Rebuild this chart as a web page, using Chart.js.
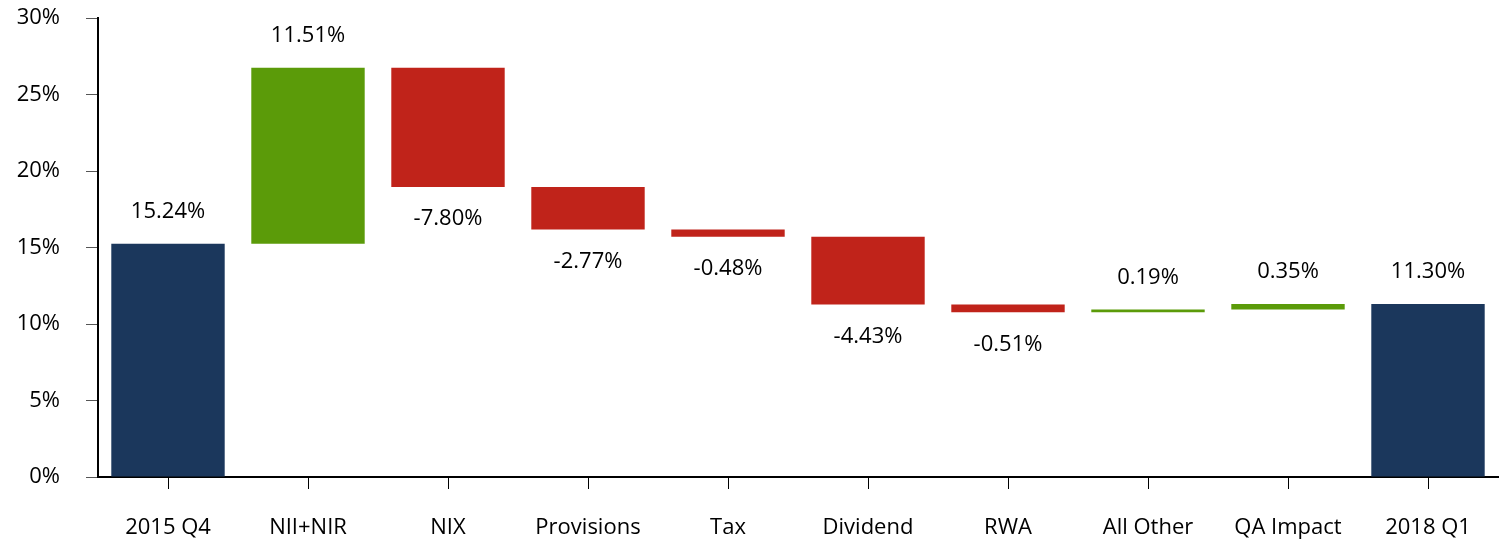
<!DOCTYPE html>
<html>
<head>
<meta charset="utf-8">
<script src="https://cdn.jsdelivr.net/npm/chart.js@4"></script>
<style>
  html, body { margin: 0; padding: 0; background: #fff; }
  #wrap { width: 1499px; height: 542px; }
</style>
</head>
<body>
<div id="wrap"><canvas id="chartContainer"></canvas></div>
<script>
var categories = ['2015 Q4', 'NII+NIR', 'NIX', 'Provisions', 'Tax', 'Dividend', 'RWA', 'All Other', 'QA Impact', '2018 Q1'];
var changes = [15.24, 11.51, -7.80, -2.77, -0.48, -4.43, -0.51, 0.19, 0.35, 11.30];
var isTotal = [true, false, false, false, false, false, false, false, false, true];
var yTicks = [0, 5, 10, 15, 20, 25, 30];

var navy = '#1b375c', green = '#5b9b09', red = '#c0231a';

// build floating bars from the running total
var ranges = [], colors = [];
var running = 0;
for (var i = 0; i < changes.length; i++) {
  if (isTotal[i]) {
    ranges.push([0, changes[i]]);
    running = changes[i];
    colors.push(navy);
  } else {
    var start = running;
    running = start + changes[i];
    ranges.push([Math.min(start, running), Math.max(start, running)]);
    colors.push(changes[i] >= 0 ? green : red);
  }
}

var labelPlugin = {
  id: 'barLabels',
  afterDatasetsDraw: function(chart) {
    var c = chart.ctx;
    var meta = chart.getDatasetMeta(0);
    var y = chart.scales.y;
    c.save();
    c.font = '22px "Open Sans"';
    c.fillStyle = '#000';
    c.textAlign = 'center';
    c.textBaseline = 'middle';
    meta.data.forEach(function(bar, i) {
      var txt = changes[i].toFixed(2) + '%';
      var ty;
      if (changes[i] >= 0) ty = y.getPixelForValue(ranges[i][1]) - 32;
      else ty = y.getPixelForValue(ranges[i][0]) + 32;
      c.fillText(txt, bar.x, ty);
    });
    c.restore();
  }
};

const ctx = document.getElementById('chartContainer');

var chart = new Chart(ctx, {
  type: 'bar',
  data: {
    labels: categories,
    datasets: [{
      label: '',
      data: ranges,
      backgroundColor: colors,
      borderWidth: 0,
      categoryPercentage: 1,
      barPercentage: 0.81
    }]
  },
  options: {
    responsive: true,
    maintainAspectRatio: false,
    animation: false,
    layout: { padding: { top: 0, right: 1, left: 1, bottom: 0 } },
    plugins: {
      legend: { display: false },
      tooltip: { enabled: false }
    },
    scales: {
      x: {
        grid: { display: true, drawOnChartArea: false, drawTicks: true, tickLength: 12, offset: false, color: '#000' },
        border: { display: true, color: '#000', width: 2 },
        ticks: { color: '#000', font: { family: 'Open Sans', size: 22 }, padding: 26, maxRotation: 0 },
        afterFit: function(s) { s.height = 65; }
      },
      y: {
        min: 0,
        max: 30,
        afterBuildTicks: function(s) { s.ticks = yTicks.map(function(v) { return { value: v }; }); },
        grid: { display: true, drawOnChartArea: false, drawTicks: true, tickLength: 12, color: '#555' },
        border: { display: true, color: '#000', width: 2 },
        ticks: {
          color: '#000',
          font: { family: 'Open Sans', size: 22 },
          padding: 26,
          callback: function(v) { return v + '%'; }
        },
        afterFit: function(s) { s.width = 97; s.paddingTop = 18; }
      }
    }
  },
  plugins: [labelPlugin]
});
</script>
</body>
</html>
